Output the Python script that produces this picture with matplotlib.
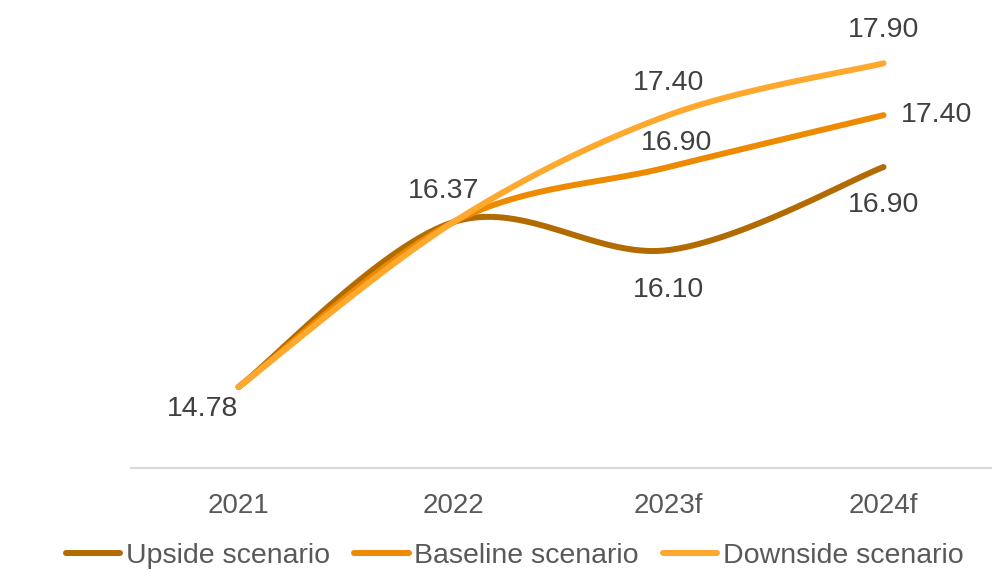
import numpy as np
import matplotlib.pyplot as plt

plt.rcParams['font.family'] = ['Liberation Sans', 'DejaVu Sans']

# Data
years = ['2021', '2022', '2023f', '2024f']
upside = [14.78, 16.37, 16.10, 16.90]
baseline = [14.78, 16.37, 16.90, 17.40]
downside = [14.78, 16.37, 17.40, 17.90]

names = ['Upside scenario', 'Baseline scenario', 'Downside scenario']
colors = ['#B26B00', '#EE8A00', '#FFA82E']


def smooth(x, y, n=40):
    # Excel-like smoothed line (Catmull-Rom as cubic Bezier)
    x = np.asarray(x, float)
    y = np.asarray(y, float)
    px = np.concatenate([[x[0]], x, [x[-1]]])
    py = np.concatenate([[y[0]], y, [y[-1]]])
    xs, ys = [], []
    t = np.linspace(0, 1, n)
    for i in range(1, len(px) - 2):
        p0 = np.array([px[i], py[i]])
        p3 = np.array([px[i + 1], py[i + 1]])
        p1 = p0 + (np.array([px[i + 1], py[i + 1]]) - np.array([px[i - 1], py[i - 1]])) / 6
        p2 = p3 - (np.array([px[i + 2], py[i + 2]]) - np.array([px[i], py[i]])) / 6
        b = ((1 - t) ** 3)[:, None] * p0 + (3 * (1 - t) ** 2 * t)[:, None] * p1 \
            + (3 * (1 - t) * t ** 2)[:, None] * p2 + (t ** 3)[:, None] * p3
        xs.extend(b[:, 0])
        ys.extend(b[:, 1])
    return np.array(xs), np.array(ys)


fig = plt.figure(figsize=(10.08, 5.73), dpi=100)
ax = fig.add_axes([131 / 1008, 1 - 468 / 573, 860 / 1008, 467 / 573])

x = np.arange(len(years))
series = [upside, baseline, downside]
for vals, name, c in zip(series, names, colors):
    sx, sy = smooth(x, vals)
    ax.plot(sx, sy, color=c, lw=4.3, solid_capstyle='round', label=name)

ax.set_xlim(-0.5, 3.5)
ax.set_ylim(14, 18.5)

tc = '#404040'
fs = 20.5


def label(xi, v, dx, dy):
    ax.annotate(f'{v:.2f}', (xi, v), xytext=(dx, dy), textcoords='offset points',
                ha='center', va='center', fontsize=fs, color=tc)


# data labels
label(0, upside[0], -26, -16)
label(1, upside[1], -7, 22)
label(2, upside[2], 0, -29)
label(3, upside[3], 0, -27)
label(2, baseline[2], 6, 17)
label(3, baseline[3], 38, 0)
label(2, downside[2], 0, 23)
label(3, downside[3], 0, 24)

for s in ['top', 'right', 'left']:
    ax.spines[s].set_visible(False)
ax.spines['bottom'].set_color('#D9D9D9')
ax.spines['bottom'].set_linewidth(1.5)
ax.set_yticks([])
ax.set_xticks(x)
ax.set_xticklabels(years, fontsize=20, color='#595959')
ax.tick_params(axis='x', length=0, pad=18)

fig.legend(loc='center', bbox_to_anchor=(515 / 1008, 1 - 556 / 573), ncol=3, frameon=False,
           fontsize=20.5, labelcolor='#595959', handlelength=1.9, handletextpad=0.2,
           columnspacing=0.85)

plt.savefig('out.png', dpi=100)
